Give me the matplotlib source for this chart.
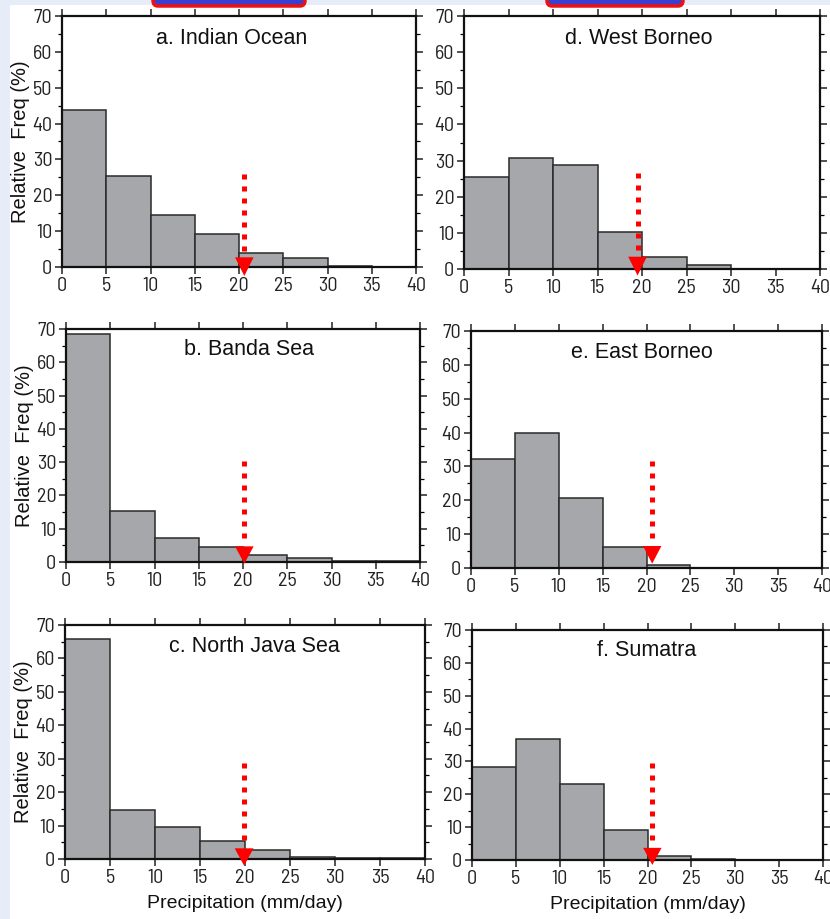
import numpy as np
import matplotlib
matplotlib.use('Agg')
import matplotlib.pyplot as plt
from matplotlib.patches import Polygon, FancyBboxPatch, Rectangle

# bin edges (mm/day) and relative frequency (%) per region
bin_left = [0, 5, 10, 15, 20, 25, 30, 35]
indian_ocean = [43.7, 25.4, 14.6, 9.3, 4.0, 2.6, 0.3, 0.0]
banda_sea = [68.6, 15.3, 7.3, 4.5, 2.2, 1.1, 0.3, 0.3]
north_java_sea = [65.7, 14.7, 9.7, 5.5, 2.8, 0.5, 0.2, 0.2]
west_borneo = [25.5, 30.7, 28.7, 10.2, 3.3, 1.1, 0.1, 0.1]
east_borneo = [32.2, 39.8, 20.8, 6.1, 0.8, 0.1, 0.1, 0.1]
sumatra = [28.3, 36.9, 23.0, 9.2, 1.2, 0.3, 0.1, 0.1]

titles = ['a. Indian Ocean', 'b. Banda Sea', 'c. North Java Sea',
          'd. West Borneo', 'e. East Borneo', 'f. Sumatra']
title_x = [19.2, 20.7, 21.0, 19.6, 19.5, 19.9]
series = [indian_ocean, banda_sea, north_java_sea,
          west_borneo, east_borneo, sumatra]

# red threshold arrows: x position, top of dotted shaft, tip
arrow_x = [20.6, 20.15, 19.9, 19.5, 20.65, 20.55]
arrow_top = [26.0, 30.4, 28.7, 26.5, 31.6, 29.4]
arrow_tip = [-2.5, -0.5, -2.0, -1.8, 1.3, -1.5]

# axes boxes in pixels: left, right, top, bottom
W, H = 830, 919
boxes = [(62, 416, 16, 267), (66, 420, 329, 562), (65, 425, 625, 859),
         (464, 820, 16, 269), (471, 822, 331, 568), (472, 823, 630, 860)]

tick_font = ['Barlow Semi Condensed', 'Archivo Narrow', 'DejaVu Sans']
label_font = ['Liberation Sans', 'DejaVu Sans']

fig = plt.figure(figsize=(W / 100, H / 100), dpi=100)
fig.patch.set_facecolor('white')

# slide background bits
fig.patches.append(Rectangle((0, 0), 10 / W, 1, transform=fig.transFigure,
                             facecolor='#e6edf8', edgecolor='none', zorder=-10))
fig.patches.append(Rectangle((0, 1 - 5 / H), 1, 5 / H, transform=fig.transFigure,
                             facecolor='#e6edf8', edgecolor='none', zorder=-10))
for x0, x1 in [(153, 305), (547, 683)]:
    fig.patches.append(FancyBboxPatch((x0 / W, 1 - 6 / H), (x1 - x0) / W, 12 / H,
                                      boxstyle='round,pad=0,rounding_size=0.006',
                                      transform=fig.transFigure, facecolor='#3a3fd0',
                                      edgecolor='#ee1111', linewidth=2.5, zorder=-5))

for i, (vals, box) in enumerate(zip(series, boxes)):
    l, r, t, b = box
    ax = fig.add_axes([l / W, 1 - b / H, (r - l) / W, (b - t) / H])
    ax.bar(bin_left, vals, width=5, align='edge', color='#a6a7aa',
           edgecolor='#2a2a2a', linewidth=1.1, zorder=2)
    ax.set_xlim(0, 40)
    ax.set_ylim(0, 70)
    ax.set_xticks(np.arange(0, 41, 5))
    ax.set_yticks(np.arange(0, 71, 10))
    ax.set_yticks(np.arange(0, 71, 5), minor=True)
    ax.tick_params(which='major', direction='out', length=5, width=1.1,
                   top=True, right=True, pad=2, labelsize=14.5, colors='#222222')
    ax.tick_params(which='minor', direction='out', length=3, width=0.9,
                   right=True, left=True)
    for lab in ax.get_xticklabels() + ax.get_yticklabels():
        lab.set_family(tick_font)
    for sp in ax.spines.values():
        sp.set_linewidth(1.6)
        sp.set_color('#111111')
        sp.set_zorder(5)

    ax.text(title_x[i], 0.91, titles[i], transform=ax.get_xaxis_transform(),
            ha='center', va='center', fontsize=15.5, family=label_font,
            color='#111111')

    # dotted red arrow
    x = arrow_x[i]
    head_top = arrow_tip[i] + 5.2
    ax.plot([x, x], [arrow_top[i], head_top + 0.4], color='#ff0000', lw=3.6,
            linestyle=(0, (1, 1.4)), solid_capstyle='butt', dash_capstyle='butt',
            zorder=6, clip_on=False)
    ax.add_patch(Polygon([[x - 1.05, head_top], [x + 1.05, head_top], [x, arrow_tip[i]]],
                         closed=True, facecolor='#ff0000', edgecolor='none',
                         zorder=6, clip_on=False))

    if i < 3:
        ax.set_ylabel('Relative  Freq (%)', fontsize=14.5, family=label_font,
                      color='#111111')
        ax.yaxis.set_label_coords(-0.09, 0.5)
    if i in (2, 5):
        ax.set_xlabel('Precipitation (mm/day)', fontsize=14, family=label_font,
                      color='#111111', labelpad=6)

fig.savefig('out.png', dpi=100)
